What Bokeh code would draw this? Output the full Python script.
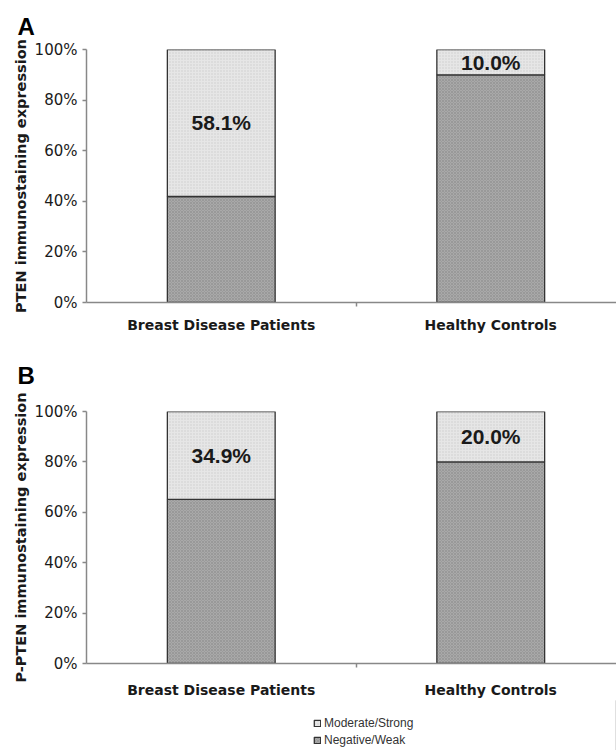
from bokeh.plotting import figure
from bokeh.models import (ColumnDataSource, Range1d, FixedTicker, PrintfTickFormatter,
                          Legend, LegendItem)
from bokeh.layouts import column
from bokeh.embed import file_html
from bokeh.resources import INLINE
from bokeh.core.properties import value

# ---- data ----
categories = ["Breast Disease Patients", "Healthy Controls"]
pten_negative_weak = [41.9, 90.0]
pten_moderate_strong = [58.1, 10.0]
ppten_negative_weak = [65.1, 80.0]
ppten_moderate_strong = [34.9, 20.0]
y_ticks = [0, 20, 40, 60, 80, 100]
series_labels = ["Moderate/Strong", "Negative/Weak"]

FONT = "DejaVu Sans"
ARIAL = "Liberation Sans"
FILLS = ["#a9a9a9", "#e6e6e6"]           # Negative/Weak, Moderate/Strong
HATCH = dict(hatch_pattern=["x", "dot"], hatch_scale=[3, 3],
             hatch_color=["#7a7a7a", "#c4c4c4"], hatch_alpha=[0.6, 0.7],
             hatch_weight=[0.6, 0.8])


def make_panel(letter, ylabel, neg, mod, height, border_top, border_bottom,
               xlabel_standoff, title_standoff):
    xs = [i + 0.5 for i in range(len(categories))]
    src = ColumnDataSource(dict(
        x=xs, neg=neg, mod=mod,
        ymid=[n + m / 2 for n, m in zip(neg, mod)],
        lab=[f"{m:.1f}%" for m in mod],
    ))
    p = figure(width=616, height=height, output_backend="svg", toolbar_location=None,
               x_range=Range1d(0, 1.9666), y_range=Range1d(0, 100),
               min_border_left=86, min_border_right=0,
               min_border_top=border_top, min_border_bottom=border_bottom)
    p.outline_line_color = None
    p.xgrid.grid_line_color = None
    p.ygrid.grid_line_color = None
    p.background_fill_color = "white"
    p.border_fill_color = "white"

    # panel letter as title
    p.title.text = letter
    p.title.align = "left"
    p.title.offset = -69
    p.title.standoff = title_standoff
    p.title.text_font = ARIAL
    p.title.text_font_style = "bold"
    p.title.text_font_size = "24px"
    p.title.text_color = "#000000"

    p.vbar_stack(["neg", "mod"], x="x", width=0.40, source=src,
                 fill_color=FILLS, line_color="#333333", line_width=1.3, **HATCH)

    p.text(x="x", y="ymid", text="lab", source=src, text_align="center",
           text_baseline="middle", text_font=value(ARIAL), text_font_style="bold",
           text_font_size="21px", text_color="#1a1a1a")

    # y axis
    ya = p.yaxis[0]
    ya.ticker = FixedTicker(ticks=y_ticks)
    ya.formatter = PrintfTickFormatter(format="%d%%")
    ya.axis_line_color = "#888888"
    ya.axis_line_width = 1.5
    ya.major_tick_line_color = "#888888"
    ya.major_tick_line_width = 1.5
    ya.major_tick_out = 4
    ya.major_tick_in = 0
    ya.minor_tick_line_color = None
    ya.major_label_standoff = 5
    ya.major_label_text_font = FONT
    ya.major_label_text_font_size = "15px"
    ya.major_label_text_color = "#1a1a1a"
    ya.axis_label = ylabel
    ya.axis_label_text_font = FONT
    ya.axis_label_text_font_style = "bold"
    ya.axis_label_text_font_size = "14.5px"
    ya.axis_label_text_color = "#1a1a1a"
    ya.axis_label_standoff = 3

    # x axis
    xa = p.xaxis[0]
    xa.ticker = FixedTicker(ticks=xs, minor_ticks=[1.0])
    xa.major_label_overrides = {x: c for x, c in zip(xs, categories)}
    xa.axis_line_color = "#888888"
    xa.axis_line_width = 1.5
    xa.major_tick_out = 0
    xa.major_tick_in = 0
    xa.major_tick_line_color = None
    xa.minor_tick_out = 4
    xa.minor_tick_in = 0
    xa.minor_tick_line_color = "#888888"
    xa.minor_tick_line_width = 1.5
    xa.major_label_standoff = xlabel_standoff
    xa.major_label_text_font = FONT
    xa.major_label_text_font_style = "bold"
    xa.major_label_text_font_size = "14px"
    xa.major_label_text_color = "#1a1a1a"
    return p


pa = make_panel("A", "PTEN immunostaining expression",
                pten_negative_weak, pten_moderate_strong,
                336, 49, 34, 10, 19)
pb = make_panel("B", "P-PTEN immunostaining expression",
                ppten_negative_weak, ppten_moderate_strong,
                364, 75, 37, 14, 46)

# legend strip (its frame is aligned with the panels above)
pl = figure(width=616, height=50, output_backend="svg", toolbar_location=None,
            x_range=Range1d(0, 1), y_range=Range1d(0, 1),
            x_axis_type=None, y_axis_type=None,
            min_border_left=86, min_border_right=0, min_border_top=0, min_border_bottom=0)
pl.outline_line_color = None
pl.xgrid.grid_line_color = None
pl.ygrid.grid_line_color = None
# one sample entry per series, placed outside the visible range (legend swatches only)
leg_src = ColumnDataSource(dict(x=[5.0], neg=[pten_negative_weak[0]],
                                mod=[pten_moderate_strong[0]]))
r_neg, r_mod = pl.vbar_stack(["neg", "mod"], x="x", width=0.4, source=leg_src,
                             fill_color=FILLS, line_color="#333333", line_width=1.3,
                             **HATCH)
legend = Legend(items=[LegendItem(label=series_labels[0], renderers=[r_mod]),
                       LegendItem(label=series_labels[1], renderers=[r_neg])],
                location=(227, 3), orientation="vertical",
                glyph_width=8, glyph_height=8, label_height=8, spacing=3,
                padding=0, margin=0, label_standoff=3,
                label_text_font=ARIAL, label_text_font_size="12px",
                label_text_color="#333333",
                border_line_color=None, background_fill_alpha=0)
pl.add_layout(legend, "center")

layout = column(pa, pb, pl, spacing=0)
open("out.html", "w").write(file_html(layout, INLINE))
